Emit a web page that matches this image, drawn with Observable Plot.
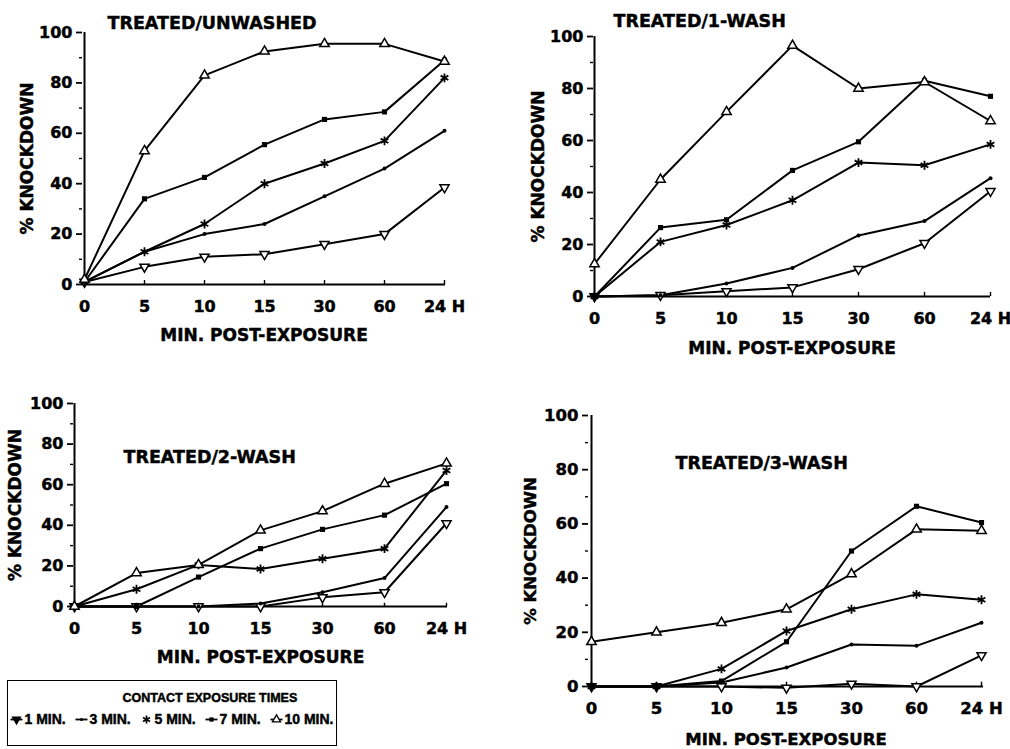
<!DOCTYPE html>
<html>
<head>
<meta charset="utf-8">
<script src="https://cdn.jsdelivr.net/npm/d3@7"></script>
<script src="https://cdn.jsdelivr.net/npm/@observablehq/plot@0.6"></script>
<style>
  html, body { margin: 0; padding: 0; background: #fff; }
  #page { position: relative; width: 1010px; height: 749px; background: #fff; overflow: hidden; }
  .cell { position: absolute; }
  #page svg text { font-weight: bold !important; stroke: #000; stroke-width: 0.45px; }
  #legendbox { border: 1.6px solid #000; box-sizing: border-box; width: 330px; height: 66px; background: #fff; }
</style>
</head>
<body>
<div id="page"></div>
<script>
// ---------- data ----------
const timeCategories = ["0", "5", "10", "15", "30", "60", "24 H"];
const seriesNames = ["1 MIN.", "3 MIN.", "5 MIN.", "7 MIN.", "10 MIN."];
const yTicks = [0, 20, 40, 60, 80, 100];
const yMinorTicks = [10, 30, 50, 70, 90];
const panelTitles = ["TREATED/UNWASHED", "TREATED/1-WASH", "TREATED/2-WASH", "TREATED/3-WASH"];
const xAxisLabel = "MIN. POST-EXPOSURE";
const yAxisLabel = "% KNOCKDOWN";
const legendTitle = "CONTACT EXPOSURE TIMES";

// values per series (1, 3, 5, 7, 10 min contact) across timeCategories
const unwashedValues = [
  [1, 7, 11, 12, 16, 20, 38.5],
  [1, 13, 20, 24, 35, 46, 61],
  [1, 13, 24, 40, 48, 57, 82],
  [1, 34, 42.5, 55.5, 65.5, 68.5, 89],
  [2, 53, 83, 92.5, 95.5, 95.5, 88.5]
];
const wash1Values = [
  [0, 0.5, 2, 3.5, 10.5, 20.5, 40.5],
  [0, 0.5, 5, 11, 23.5, 29, 45.5],
  [0, 21, 27.5, 37, 51.5, 50.5, 58.5],
  [0, 26.5, 29.5, 48.5, 59.5, 83, 77],
  [12.5, 45, 71, 96.5, 80, 82.5, 67.5]
];
const wash2Values = [
  [0, 0, 0, 0, 4.5, 7, 41],
  [0, 0, 0, 1.5, 7, 14, 49],
  [0, 8.5, 20.5, 18.5, 23.5, 28.5, 67],
  [0, 0, 14.5, 28.5, 38, 45, 60.5],
  [0, 16.5, 20.5, 37.5, 47, 60.5, 70.5]
];
const wash3Values = [
  [0, 0, 0, -0.5, 1, 0, 11.5],
  [0, 0, 1.5, 7, 15.5, 15, 23.5],
  [0, 0, 6.5, 20.5, 28.5, 34, 32],
  [0, 0, 2, 16.5, 50, 66.5, 60.5],
  [16.5, 20, 23.5, 28.5, 41.5, 58, 57.5]
];

// ---------- symbols ----------
const triangleDown = {
  draw(ctx, size) {
    const s3 = Math.sqrt(3);
    const y = -Math.sqrt(size / (s3 * 3));
    ctx.moveTo(0, -y * 2);
    ctx.lineTo(-s3 * y, y);
    ctx.lineTo(s3 * y, y);
    ctx.closePath();
  }
};
const hline = {
  draw(ctx, size) {
    const r = Math.sqrt(size / Math.PI);
    ctx.moveTo(-r, 0);
    ctx.lineTo(r, 0);
  }
};

const seriesStyle = [
  {symbol: triangleDown, fill: "white", stroke: "black", r: 3.4, strokeWidth: 1.5},
  {symbol: "circle", fill: "black", stroke: "none", r: 2},
  {symbol: "asterisk", fill: "none", stroke: "black", r: 4.2, strokeWidth: 1.8},
  {symbol: "square", fill: "black", stroke: "none", r: 2.9},
  {symbol: "triangle", fill: "white", stroke: "black", r: 3.5, strokeWidth: 1.5}
];

const FONT = "DejaVu Sans";
const LEGEND_FONT = "Liberation Sans";
const TEXT = {fontWeight: "bold", fill: "black"};

function panel(values, title, L) {
  const rows = [];
  values.forEach((arr, si) => arr.forEach((v, i) => rows.push({series: seriesNames[si], si, t: timeCategories[i], v})));
  const marks = [
    Plot.ruleY([0], {stroke: "black", strokeWidth: 2}),
    Plot.ruleX([timeCategories[0]], {stroke: "black", strokeWidth: 2}),
    Plot.ruleX(timeCategories.slice(1), {y1: 0, y2: 1.6, stroke: "black", strokeWidth: 1.4}),
    Plot.axisY({ticks: yTicks, tickSize: 6, tickPadding: 4, fontSize: L.tickFont, label: null, strokeWidth: 1.8, ...TEXT}),
    Plot.axisY({ticks: yMinorTicks, tickSize: 3, tickFormat: () => "", label: null, strokeWidth: 1.4}),
    Plot.axisX({tickSize: 0, tickPadding: 16, fontSize: L.tickFont, label: null, ...TEXT})
  ];
  seriesNames.forEach((s, si) => {
    marks.push(Plot.line(rows.filter(d => d.si === si), {x: "t", y: "v", stroke: "black", strokeWidth: 2}));
  });
  seriesNames.forEach((s, si) => {
    marks.push(Plot.dot(rows.filter(d => d.si === si), {x: "t", y: "v", ...seriesStyle[si]}));
  });
  marks.push(
    Plot.text([title], {frameAnchor: "top-left", textAnchor: "start", lineAnchor: "middle", dx: L.titleDx, dy: L.titleDy, fontSize: 17.5, ...TEXT}),
    Plot.text([xAxisLabel], {frameAnchor: "bottom", textAnchor: "middle", lineAnchor: "middle", dy: L.xLabelDy, fontSize: L.labelFont, ...TEXT}),
    Plot.text([yAxisLabel], {frameAnchor: "left", textAnchor: "middle", rotate: -90, lineAnchor: "middle", dx: L.yLabelDx, fontSize: L.labelFont, ...TEXT})
  );
  return Plot.plot({
    width: L.width, height: L.height,
    marginLeft: L.ml, marginRight: L.mr, marginTop: L.mt, marginBottom: L.mb,
    x: {type: "point", domain: timeCategories, padding: 0, label: null},
    y: {domain: [0, 100], label: null},
    style: {fontFamily: FONT, fontWeight: "bold", color: "black", background: "white", overflow: "visible"},
    marks
  });
}

function place(node, left, top) {
  const d = document.createElement("div");
  d.className = "cell";
  d.style.left = left + "px";
  d.style.top = top + "px";
  d.appendChild(node);
  document.getElementById("page").appendChild(d);
}

place(panel(unwashedValues, panelTitles[0], {width: 470, height: 345, ml: 82, mr: 25, mt: 32, mb: 61, titleDx: 25, titleDy: -9, xLabelDy: 51, yLabelDx: -55, tickFont: 16, labelFont: 17}), 0, 0);
place(panel(wash1Values, panelTitles[1], {width: 490, height: 360, ml: 73, mr: 20, mt: 36, mb: 64, titleDx: 20, titleDy: -15, xLabelDy: 52, yLabelDx: -55, tickFont: 16, labelFont: 17}), 520, 0);
place(panel(wash2Values, panelTitles[2], {width: 470, height: 290, ml: 73, mr: 23, mt: 23, mb: 64, titleDx: 50, titleDy: 54, xLabelDy: 51, yLabelDx: -58, tickFont: 16, labelFont: 17}), 0, 380);
place(panel(wash3Values, panelTitles[3], {width: 490, height: 359, ml: 68, mr: 27, mt: 25, mb: 63, titleDx: 87, titleDy: 48, xLabelDy: 53, yLabelDx: -58, tickFont: 16.5, labelFont: 16.5}), 520, 390);

// ---------- legend ----------
const legendSymbolStyle = [
  {symbol: triangleDown, fill: "black", stroke: "black", r: 2.8},
  {symbol: "circle", fill: "black", stroke: "none", r: 1.6},
  {symbol: "asterisk", fill: "none", stroke: "black", r: 3.8, strokeWidth: 1.7},
  {symbol: "square", fill: "black", stroke: "none", r: 2.4},
  {symbol: "triangle", fill: "white", stroke: "black", r: 3, strokeWidth: 1.3}
];
const legendMarks = [
  Plot.text([legendTitle], {frameAnchor: "top-left", textAnchor: "start", lineAnchor: "middle", dx: 108, dy: 16, fontSize: 12.5, ...TEXT})
];
seriesNames.forEach((s, si) => {
  if (si !== 2) legendMarks.push(Plot.dot([s], {x: d => d, frameAnchor: "top", dy: 38, symbol: hline, r: 6, stroke: "black", strokeWidth: 1.8}));
  legendMarks.push(Plot.dot([s], {x: d => d, frameAnchor: "top", dy: 38, ...legendSymbolStyle[si]}));
});
legendMarks.push(Plot.text(seriesNames, {x: d => d, text: d => d, frameAnchor: "top", dy: 38, dx: 8, textAnchor: "start", lineAnchor: "middle", fontSize: 14, ...TEXT}));
const legendPlot = Plot.plot({
  width: 327, height: 63,
  marginLeft: 6, marginRight: 58, marginTop: 0, marginBottom: 0,
  x: {type: "point", domain: seriesNames, padding: 0, axis: null},
  style: {fontFamily: LEGEND_FONT, fontWeight: "bold", color: "black", background: "transparent", overflow: "visible"},
  marks: legendMarks
});
const box = document.createElement("div");
box.id = "legendbox";
box.appendChild(legendPlot);
place(box, 7, 680);
</script>
</body>
</html>
